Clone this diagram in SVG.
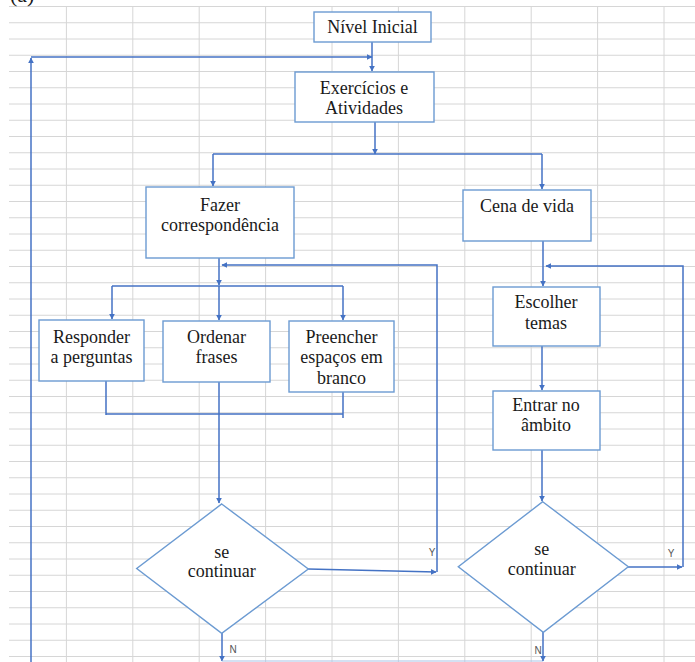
<svg xmlns="http://www.w3.org/2000/svg" width="695" height="662" viewBox="0 0 695 662">
<defs>
<style>
.grid{stroke:#d6d6d6;stroke-width:1;fill:none}
.box{fill:#ffffff;stroke:#6c9bd2;stroke-width:1.4}
.t{font-size:18px;fill:#1a1a1a;text-anchor:middle}
.lbl{font-size:10px;fill:#555555;text-anchor:middle}
.c{fill:none;stroke:#4472c4;stroke-width:1.5}
.cf{fill:none;stroke:#a9c3e8;stroke-width:1.2}
</style>
<marker id="ah" viewBox="0 0 10 10" refX="9" refY="5" markerWidth="6" markerHeight="6" markerUnits="userSpaceOnUse" orient="auto">
<path d="M0,0 L10,5 L0,10 Z" fill="#4472c4"/>
</marker>
</defs>
<rect x="0" y="0" width="695" height="662" fill="#ffffff"/>
<path class="grid" d="M9 6.5H695M9 22.75H695M9 39H695M9 55.25H695M9 71.5H695M9 87.75H695M9 104H695M9 120.25H695M9 136.5H695M9 152.75H695M9 169H695M9 185.25H695M9 201.5H695M9 217.75H695M9 234H695M9 250.25H695M9 266.5H695M9 282.75H695M9 299H695M9 315.25H695M9 331.5H695M9 347.75H695M9 364H695M9 380.25H695M9 396.5H695M9 412.75H695M9 429H695M9 445.25H695M9 461.5H695M9 477.75H695M9 494H695M9 510.25H695M9 526.5H695M9 542.75H695M9 559H695M9 575.25H695M9 591.5H695M9 607.75H695M9 624H695M9 640.25H695M9 656.5H695M66.4 6.5V662M132.8 6.5V662M199.2 6.5V662M265.6 6.5V662M332 6.5V662M398.4 6.5V662M464.8 6.5V662M531.2 6.5V662M597.6 6.5V662M664 6.5V662"/>
<text x="10" y="2" font-family="Liberation Serif, DejaVu Serif, serif" font-size="22" fill="#1a1a1a">(a)</text>
<g id="connectors">
<path class="c" d="M372 42V71" marker-end="url(#ah)"/>
<path class="c" d="M31 662V58" marker-end="url(#ah)"/>
<path class="c" d="M31 57H372" marker-end="url(#ah)"/>
<path class="c" d="M375 122V154" marker-end="url(#ah)"/>
<path class="c" d="M213 154H542"/>
<path class="c" d="M213 154V186" marker-end="url(#ah)"/>
<path class="c" d="M542 154V189" marker-end="url(#ah)"/>
<path class="c" d="M219 258V285" marker-end="url(#ah)"/>
<path class="c" d="M112 286H343"/>
<path class="c" d="M112 286V319" marker-end="url(#ah)"/>
<path class="c" d="M219 286V320" marker-end="url(#ah)"/>
<path class="c" d="M343 286V320" marker-end="url(#ah)"/>
<path class="c" d="M437 572V265H222" marker-end="url(#ah)"/>
<path class="c" d="M106 381V415M343 392V418M106 414H343"/>
<path class="c" d="M219 382V503" marker-end="url(#ah)"/>
<path class="c" d="M308 569L436 572" marker-end="url(#ah)"/>
<path class="c" d="M222 633V661" marker-end="url(#ah)"/>
<path class="cf" d="M222 661H543"/>
<path class="c" d="M543 241V286" marker-end="url(#ah)"/>
<path class="c" d="M683 567V266H546" marker-end="url(#ah)"/>
<path class="c" d="M628 567H682" marker-end="url(#ah)"/>
<path class="c" d="M542 346V390" marker-end="url(#ah)"/>
<path class="c" d="M542 450V501" marker-end="url(#ah)"/>
<path class="c" d="M543 632V661" marker-end="url(#ah)"/>
<g font-family="Liberation Sans, Arial, sans-serif">
<text class="lbl" x="432" y="556">Y</text>
<text class="lbl" x="671" y="557">Y</text>
<text class="lbl" x="233" y="653">N</text>
<text class="lbl" x="538" y="654">N</text>
</g>
</g>
<g font-family="Liberation Serif, DejaVu Serif, serif">
<g id="nivel-inicial">
<rect class="box" x="314" y="12" width="117" height="30"/>
<text class="t" x="372.5" y="33">Nível Inicial</text>
</g>
<g id="exercicios">
<rect class="box" x="295" y="72" width="139" height="50"/>
<text class="t" x="364" y="93.5">Exercícios e</text>
<text class="t" x="364" y="114">Atividades</text>
</g>
<g id="fazer">
<rect class="box" x="146" y="187" width="148" height="71"/>
<text class="t" x="220" y="211">Fazer</text>
<text class="t" x="220" y="231">correspondência</text>
</g>
<g id="cena">
<rect class="box" x="463" y="190" width="128" height="51"/>
<text class="t" x="527" y="212">Cena de vida</text>
</g>
<g id="responder">
<rect class="box" x="39" y="320" width="105" height="61"/>
<text class="t" x="91.5" y="342.5">Responder</text>
<text class="t" x="91.5" y="362.5">a perguntas</text>
</g>
<g id="ordenar">
<rect class="box" x="163" y="321" width="107" height="61"/>
<text class="t" x="216.5" y="342.5">Ordenar</text>
<text class="t" x="216.5" y="362.5">frases</text>
</g>
<g id="preencher">
<rect class="box" x="289" y="321" width="105" height="71"/>
<text class="t" x="341.5" y="342.5">Preencher</text>
<text class="t" x="341.5" y="362.5">espaços em</text>
<text class="t" x="341.5" y="383.5">branco</text>
</g>
<g id="escolher">
<rect class="box" x="493" y="287" width="107" height="59"/>
<text class="t" x="546" y="307.5">Escolher</text>
<text class="t" x="546" y="328.5">temas</text>
</g>
<g id="entrar">
<rect class="box" x="493" y="391" width="107" height="59"/>
<text class="t" x="546" y="411">Entrar no</text>
<text class="t" x="546" y="431">âmbito</text>
</g>
<g id="decisao-esquerda">
<path class="box" d="M221.7 504L308.3 569L221.7 633.3L136.7 568.5Z"/>
<text class="t" x="221.7" y="557.5">se</text>
<text class="t" x="221.7" y="576.5">continuar</text>
</g>
<g id="decisao-direita">
<path class="box" d="M542.7 501.7L628.3 566.7L543.3 632.3L458.3 566.7Z"/>
<text class="t" x="541.7" y="555">se</text>
<text class="t" x="541.7" y="575">continuar</text>
</g>
</g>
</svg>
